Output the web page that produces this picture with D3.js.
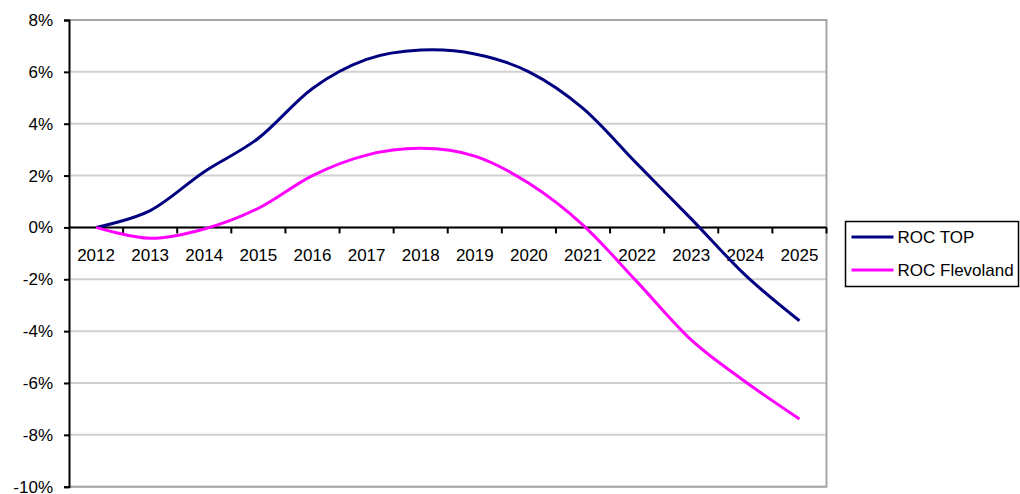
<!DOCTYPE html>
<html>
<head>
<meta charset="utf-8">
<style>
  body { margin: 0; background: #fff; }
  svg text { font-family: Arial, "Liberation Sans", sans-serif; font-size: 17px; fill: #000; }
</style>
</head>
<body>
<svg width="1020" height="494"></svg>
<script src="https://d3js.org/d3.v7.min.js"></script>
<script>
// chart data (percent)
var years = ["2012","2013","2014","2015","2016","2017","2018","2019","2020","2021","2022","2023","2024","2025"];
var rocTop = [0, 0.65, 2.15, 3.44, 5.36, 6.48, 6.84, 6.69, 6.0, 4.59, 2.45, 0.33, -1.84, -3.6];
var rocFlevoland = [0, -0.42, -0.06, 0.74, 2.0, 2.79, 3.05, 2.75, 1.7, 0.09, -2.1, -4.34, -5.95, -7.39];
var yTicks = [-10, -8, -6, -4, -2, 0, 2, 4, 6, 8];
var seriesNames = ["ROC TOP", "ROC Flevoland"];
var seriesColors = ["#000080", "#ff00ff"];

var svg = d3.select("svg");
var plotL = 69, plotR = 826.5, plotT = 20, plotB = 486.7;

var x = d3.scaleBand().domain(years).range([plotL, plotR]).padding(0);
var y = d3.scaleLinear().domain([-10, 8]).range([plotB, plotT]);

// gridlines
svg.append("g")
  .selectAll("line")
  .data(yTicks)
  .enter().append("line")
    .attr("x1", plotL).attr("x2", plotR)
    .attr("y1", function(d) { return y(d); })
    .attr("y2", function(d) { return y(d); })
    .attr("stroke", "#d0d0d0")
    .attr("stroke-width", 2);

// plot border (top and right in grey)
svg.append("path")
  .attr("d", "M" + plotL + "," + plotT + "H" + plotR + "V" + plotB + "H" + plotL)
  .attr("fill", "none")
  .attr("stroke", "#a6a6a6")
  .attr("stroke-width", 2);

// y axis
var yAxis = svg.append("g")
  .attr("transform", "translate(" + plotL + ",0)")
  .call(d3.axisLeft(y)
    .tickValues(yTicks)
    .tickSize(5)
    .tickPadding(11)
    .tickFormat(function(d) { return d + "%"; }));
yAxis.selectAll("text").style("font-size", "17px").style("font-family", "Arial, 'Liberation Sans', sans-serif").attr("fill", "#000");
yAxis.select(".domain").attr("stroke", "#000").attr("stroke-width", 2);
yAxis.selectAll(".tick line").attr("stroke", "#000").attr("stroke-width", 2);

// x axis at zero, ticks on band edges
var lastYear = years[years.length - 1];
var xAxis = svg.append("g")
  .attr("transform", "translate(0," + y(0) + ")");
xAxis.append("line")
  .attr("x1", plotL).attr("x2", plotR)
  .attr("stroke", "#000").attr("stroke-width", 2);
xAxis.selectAll(".edge")
  .data(years.slice(1).concat(["end"]))
  .enter().append("line")
    .attr("class", "edge")
    .attr("x1", function(d) { return d === "end" ? x(lastYear) + x.bandwidth() : x(d); })
    .attr("x2", function(d) { return d === "end" ? x(lastYear) + x.bandwidth() : x(d); })
    .attr("y1", 0).attr("y2", 6)
    .attr("stroke", "#000").attr("stroke-width", 2);
xAxis.selectAll(".lbl")
  .data(years)
  .enter().append("text")
    .attr("class", "lbl")
    .attr("x", function(d) { return x(d) + x.bandwidth() / 2; })
    .attr("y", 34)
    .attr("text-anchor", "middle")
    .text(function(d) { return d; });

// lines
var line = d3.line()
  .x(function(d, i) { return x(years[i]) + x.bandwidth() / 2; })
  .y(function(d) { return y(d); })
  .curve(d3.curveCatmullRom.alpha(0));

[rocTop, rocFlevoland].forEach(function(s, k) {
  svg.append("path")
    .datum(s)
    .attr("fill", "none")
    .attr("stroke", seriesColors[k])
    .attr("stroke-width", 3)
    .attr("d", line);
});

// legend
var lg = svg.append("g").attr("transform", "translate(845.5,221.5)");
lg.append("rect")
  .attr("width", 173).attr("height", 65)
  .attr("fill", "#fff").attr("stroke", "#000").attr("stroke-width", 1.5);
var item = lg.selectAll(".item")
  .data(seriesNames)
  .enter().append("g")
    .attr("class", "item")
    .attr("transform", function(d, i) { return "translate(0," + (15.5 + i * 33) + ")"; });
item.append("line")
  .attr("x1", 6).attr("x2", 48)
  .attr("stroke", function(d, i) { return seriesColors[i]; })
  .attr("stroke-width", 3);
item.append("text")
  .attr("x", 52).attr("y", 6)
  .text(function(d) { return d; });
</script>
</body>
</html>
